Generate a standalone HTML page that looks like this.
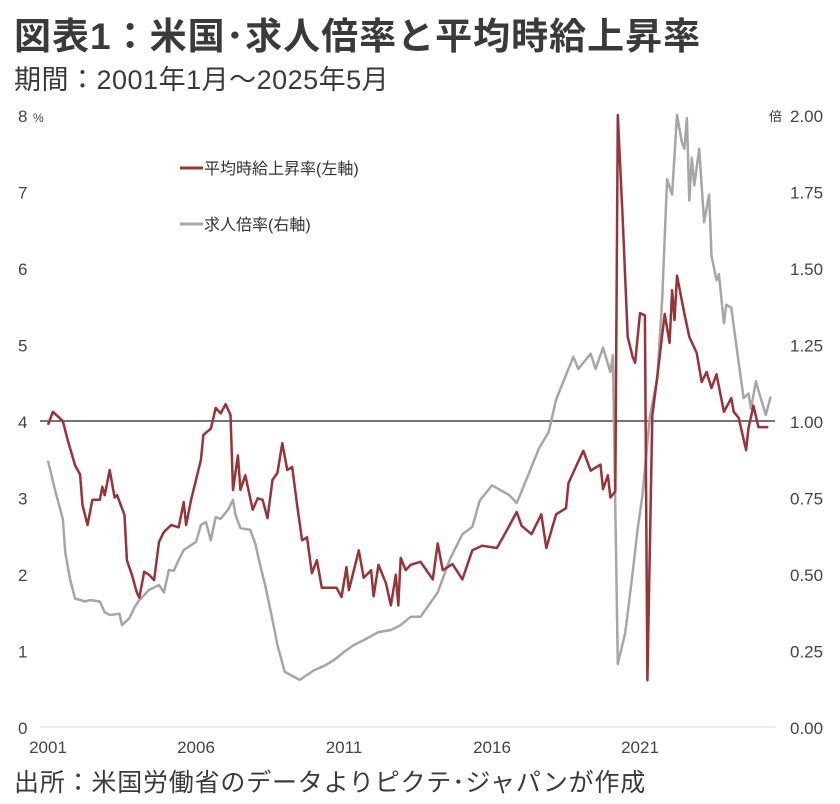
<!DOCTYPE html>
<html><head><meta charset="utf-8"><style>
body{margin:0;background:#fff;width:840px;height:804px;overflow:hidden;font-family:"Liberation Sans","Noto Sans CJK JP",sans-serif;color:#333}
.t{position:absolute;white-space:nowrap}
</style></head><body>
<div class="t" style="left:14px;top:6px;font-size:37px;font-weight:bold;color:#3a3a3a;letter-spacing:1px">図表1：米国･求人倍率と平均時給上昇率</div>
<div class="t" style="left:14px;top:58px;font-size:27px;color:#3a3a3a;letter-spacing:0.5px">期間：2001年1月～2025年5月</div>
<div class="t" style="left:14px;top:763px;font-size:25px;color:#3a3a3a;letter-spacing:0.8px">出所：米国労働省のデータよりピクテ･ジャパンが作成</div>
<svg id="c" width="840" height="804" style="position:absolute;left:0;top:0"></svg>
<script>
const wageMonths=[0,2,6,8,11,13,14,16,18,21,22,23,25,27,28,31,32,34,36,37,39,41,43,45,47,50,53,55,56,58,62,63,66,68,70,72,74,75,77,78,80,83,85,87,89,91,93,95,97,99,101,103,105,107,109,111,117,119,121,122,126,128,131,132,134,137,139,141,142,143,145,147,151,156,158,160,164,168,172,176,182,186,190,192,196,200,202,206,210,211,215,217,220,224,225,227,228,230,231,233,235,237,238,240,242,243,245,247,250,252,253,254,255,258,260,263,265,267,269,271,274,277,278,280,283,284,286,288,292];
const wageValues=[3.95,4.12,4.0,3.75,3.42,3.3,2.9,2.64,2.97,2.97,3.14,3.03,3.36,3.0,3.03,2.77,2.18,1.99,1.76,1.69,2.03,1.99,1.92,2.42,2.55,2.64,2.61,2.94,2.64,2.97,3.49,3.82,3.9,4.17,4.1,4.22,4.08,3.1,3.55,3.1,3.29,2.84,2.99,2.97,2.73,3.23,3.32,3.71,3.36,3.4,2.9,2.44,2.48,2.01,2.18,1.82,1.82,1.7,2.09,1.79,2.31,1.95,2.05,1.71,2.12,1.88,1.59,1.99,1.59,2.21,2.05,2.12,2.16,1.93,2.4,2.05,2.13,1.93,2.31,2.37,2.34,2.57,2.81,2.63,2.52,2.78,2.34,2.78,2.86,3.19,3.47,3.61,3.35,3.43,3.11,3.29,3.0,3.08,8.0,6.64,5.1,4.84,4.76,5.41,5.38,0.61,4.07,4.58,5.4,5.02,5.71,5.32,5.9,5.4,5.1,4.89,4.51,4.64,4.43,4.61,4.12,4.3,4.12,4.04,3.62,3.91,4.2,3.92,3.92];
const jobMonths=[0,3,6,7,9,11,15,17,21,23,25,29,30,33,35,37,41,45,47,49,51,53,55,60,62,64,66,68,70,73,75,76,78,82,84,86,88,91,93,96,99,102,105,108,112,116,120,124,128,134,139,143,147,151,158,163,168,172,175,180,187,190,192,196,199,203,206,209,213,215,220,222,225,228,229,231,234,237,239,241,244,247,249,251,253,255,257,258,259,260,261,262,264,266,268,269,271,272,274,275,277,280,282,284,285,287,288,291,293];
const jobValues=[0.87,0.77,0.68,0.57,0.48,0.42,0.41,0.415,0.41,0.375,0.366,0.37,0.333,0.356,0.39,0.415,0.448,0.464,0.44,0.513,0.51,0.546,0.578,0.605,0.66,0.67,0.61,0.686,0.68,0.71,0.742,0.693,0.65,0.644,0.6,0.53,0.464,0.35,0.268,0.18,0.167,0.154,0.17,0.186,0.2,0.219,0.245,0.268,0.284,0.31,0.317,0.333,0.36,0.36,0.44,0.55,0.63,0.654,0.74,0.79,0.758,0.732,0.77,0.85,0.91,0.964,1.07,1.13,1.21,1.17,1.22,1.17,1.24,1.16,1.215,0.206,0.307,0.503,0.644,0.758,1.016,1.14,1.4,1.79,1.74,2.0,1.91,1.89,1.99,1.72,1.86,1.77,1.89,1.65,1.74,1.54,1.46,1.48,1.32,1.38,1.37,1.19,1.075,1.09,1.04,1.13,1.1,1.02,1.08];
const leftTicks=[0,1,2,3,4,5,6,7];
const rightTicks=["0.00","0.25","0.50","0.75","1.00","1.25","1.50","1.75","2.00"];
const xTickYears=[2001,2006,2011,2016,2021];

const svg=document.getElementById('c');
const NS='http://www.w3.org/2000/svg';
const X0=48,PX_PER_YEAR=29.6,Y0=727,TOP=115;
const xm=m=>X0+m/12*PX_PER_YEAR;
const yl=v=>Y0-v*(Y0-TOP)/8;
const yr=v=>Y0-v*(Y0-TOP)/2;
function mk(tag,attrs,txt){const e=document.createElementNS(NS,tag);for(const k in attrs)e.setAttribute(k,attrs[k]);if(txt!==undefined)e.textContent=txt;svg.appendChild(e);return e;}
const F='"Liberation Sans","Noto Sans CJK JP",sans-serif';

let e=mk('line',{x1:40,x2:775,y1:Y0,y2:Y0,stroke:'#d9d9d9','stroke-width':1});


e=mk('line',{x1:40,x2:775,y1:yl(4),y2:yl(4),stroke:'#222','stroke-width':1.2});



leftTicks.forEach(v=>{
 const t=mk('text',{x:18,y:yl(v)+7,'font-size':17,'font-family':F,fill:'#444'},String(v));
 
 
});
e=mk('text',{x:18,y:yl(8)+7,'font-size':17,'font-family':F,fill:'#444'},'8');


e=mk('text',{x:33,y:yl(8)+7,'font-size':12,'font-family':F,fill:'#444'},'%');


rightTicks.forEach(s=>{
 const t=mk('text',{x:790,y:yr(parseFloat(s))+7,'font-size':17,'font-family':F,fill:'#444'},s);
 
 
});
e=mk('text',{x:769,y:yr(2)+6,'font-size':13,'font-family':F,fill:'#333'},'倍');


xTickYears.forEach(yv=>{
 const t=mk('text',{x:xm((yv-2001)*12),y:753,'font-size':17,'font-family':F,fill:'#444','text-anchor':'middle'},String(yv));
 
 
});

function path(ms,vs,yf){return ms.map((m,i)=>(i?'L':'M')+xm(m).toFixed(1)+','+yf(vs[i]).toFixed(1)).join('');}
e=mk('path',{d:path(jobMonths,jobValues,yr),fill:'none',stroke:'#a6a6a6','stroke-width':2.5,'stroke-linejoin':'round'});


e=mk('path',{d:path(wageMonths,wageValues,yl),fill:'none',stroke:'#993338','stroke-width':2.5,'stroke-linejoin':'round'});



e=mk('line',{x1:180,x2:203,y1:168,y2:168,stroke:'#993338','stroke-width':3});


e=mk('text',{x:204,y:174,'font-size':16,'font-family':F,fill:'#333'},'平均時給上昇率(左軸)');


e=mk('line',{x1:180,x2:203,y1:224,y2:224,stroke:'#a6a6a6','stroke-width':3});


e=mk('text',{x:204,y:230,'font-size':16,'font-family':F,fill:'#333'},'求人倍率(右軸)');


</script>
</body></html>
